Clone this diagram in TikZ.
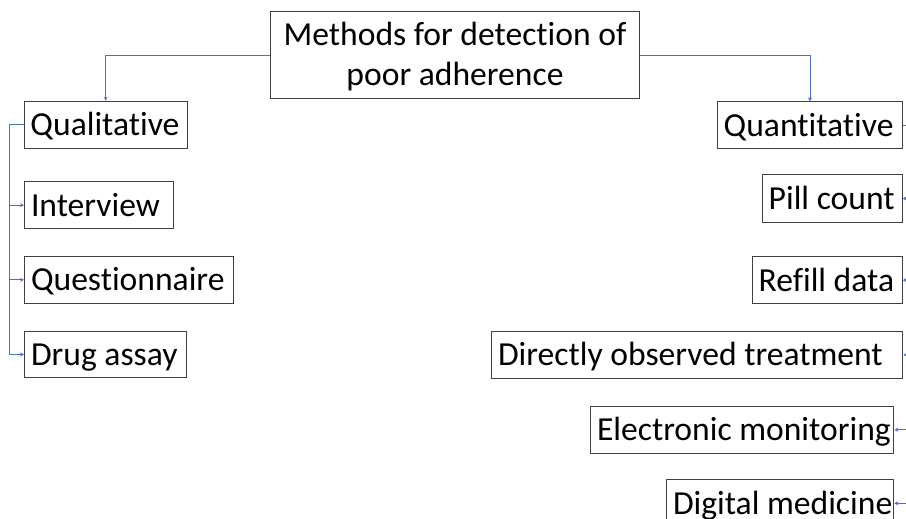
\documentclass[tikz,border=0pt]{standalone}
\usepackage{fontspec}
\setmainfont{Carlito}[Ligatures={NoCommon}]
\usetikzlibrary{arrows.meta}
\definecolor{boxgray}{HTML}{404040}
\definecolor{linkblue}{HTML}{4472C4}
\newcommand\tstrut{\rule[-6pt]{0pt}{34pt}}
\begin{document}
\begin{tikzpicture}[x=1pt,y=-1pt,
  box/.style={draw=boxgray, line width=1pt, anchor=north west,
    inner xsep=6.5pt, inner ysep=0pt, font=\fontsize{33.6}{40}\selectfont},
  title/.style={draw=boxgray, line width=1pt, anchor=north west, align=center,
    inner sep=0pt, minimum width=369pt, minimum height=87.6pt,
    font=\fontsize{33.6}{40}\selectfont},
  conn/.style={draw=linkblue, line width=0.9pt},
  feed/.style={conn, -{Stealth[length=4pt,width=4pt]}}]
\useasboundingbox (0,0) rectangle (906,519);
\begin{scope}
\clip (0,0) rectangle (906,519);
% root
\node[title] (root) at (270,10.7) {\rule{0pt}{26pt}Methods for detection of\\poor adherence};
% qualitative branch
\node[box, minimum height=47pt]   (qual)  at (23.5,100.7) {\makebox[150.5pt][l]{\tstrut Qualitative}};
\node[box, minimum height=47.3pt] (inter) at (24,181)     {\makebox[136.3pt][l]{\tstrut Interview}};
\node[box, minimum height=46.7pt] (quest) at (24,256)     {\makebox[196.3pt][l]{\tstrut Questionnaire}};
\node[box, minimum height=46.6pt] (drug)  at (24,330.7)   {\makebox[148.7pt][l]{\tstrut Drug assay}};
% quantitative branch
\node[box, minimum height=46.4pt] (quant)  at (716.7,101.3) {\makebox[172.6pt][l]{\tstrut Quantitative}};
\node[box, minimum height=47.4pt] (pill)   at (761.7,174.3) {\makebox[127pt][l]{\tstrut Pill count}};
\node[box, minimum height=47.3pt] (refill) at (751.7,256)   {\makebox[137pt][l]{\tstrut Refill data}};
\node[box, minimum height=46.7pt] (dot)    at (491,331)     {\makebox[398.3pt][l]{\tstrut Directly observed treatment}};
\node[box, minimum height=46.7pt] (elec)   at (590,406)     {\makebox[290.3pt][l]{\tstrut Electronic monitoring}};
\node[box, minimum height=47pt]   (digi)   at (666,479.3)   {\makebox[214.3pt][l]{\tstrut Digital medicine}};
% bus lines
\coordinate (lbus) at (9.3,0);
\coordinate (rbus) at (916,0);
% root to the two groups
\draw[feed] (root.west) -| (qual.north);
\draw[feed] (root.east) -| (quant.north);
% left bus
\draw[conn] (qual.west) -- (qual.west -| lbus) -- (drug.west -| lbus);
\draw[feed] (inter.west -| lbus) -- (inter.west);
\draw[feed] (quest.west -| lbus) -- (quest.west);
\draw[feed] (drug.west -| lbus) -- (drug.west);
% right bus
\draw[conn] (quant.east) -- (quant.east -| rbus) -- (digi.east -| rbus);
\draw[feed] (pill.east -| rbus) -- (pill.east);
\draw[feed] (refill.east -| rbus) -- (refill.east);
\draw[feed] (dot.east -| rbus) -- (dot.east);
\draw[feed] (elec.east -| rbus) -- (elec.east);
\draw[feed] (digi.east -| rbus) -- (digi.east);
\end{scope}
\end{tikzpicture}
\end{document}
